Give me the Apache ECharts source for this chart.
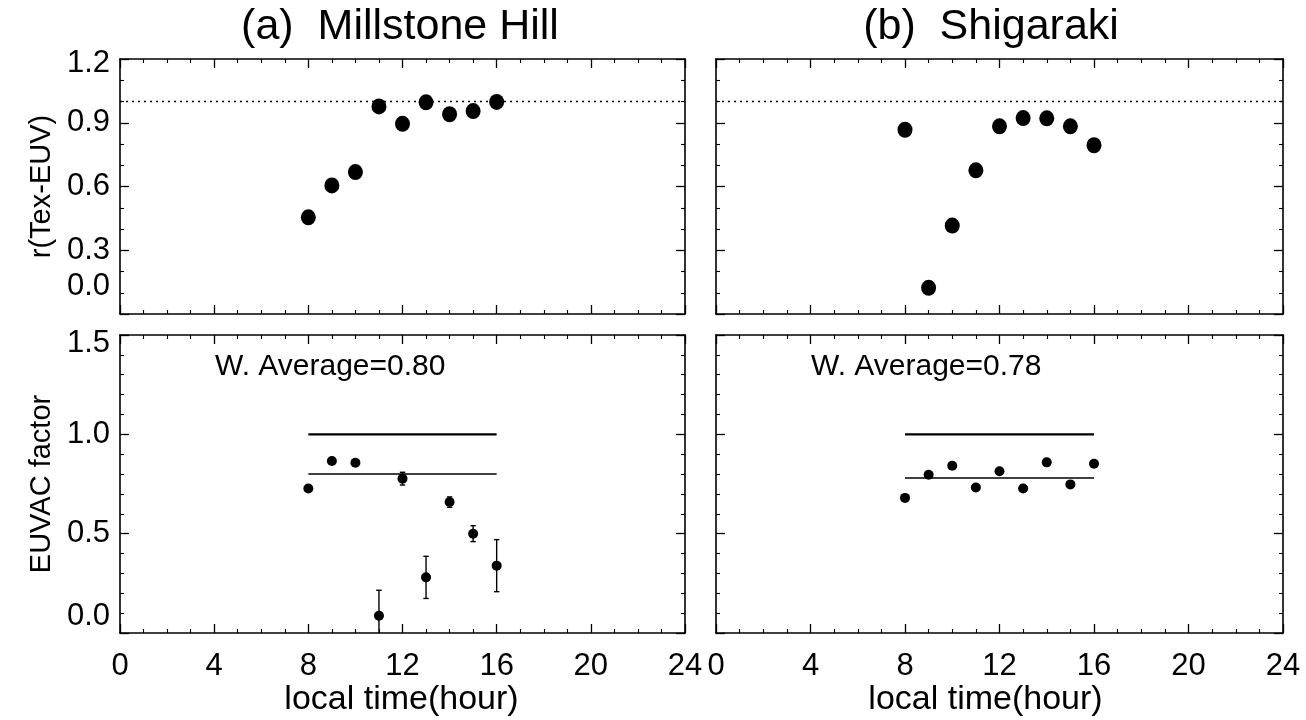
<!DOCTYPE html>
<html>
<head>
<meta charset="utf-8">
<script src="https://cdn.jsdelivr.net/npm/echarts@6/dist/echarts.min.js"></script>
<style>html,body{margin:0;padding:0;background:#fff}#c{width:1306px;height:720px}</style>
</head>
<body>
<div id="c"></div>
<script>
// ---- data ----
const hours = [8, 9, 10, 11, 12, 13, 14, 15, 16];
const mhCorr = [0.455, 0.605, 0.668, 0.977, 0.895, 0.996, 0.940, 0.955, 0.998];
const sgCorr = [0.867, 0.123, 0.416, 0.676, 0.883, 0.922, 0.921, 0.883, 0.794];
const mhFactor = [0.727, 0.866, 0.857, 0.087, 0.777, 0.280, 0.659, 0.500, 0.339];
const mhFactorErr = [0, 0, 0, 0.128, 0.032, 0.106, 0.026, 0.040, 0.131];
const sgFactor = [0.680, 0.797, 0.842, 0.732, 0.814, 0.727, 0.859, 0.748, 0.852];
const mhAvg = 0.80;
const sgAvg = 0.78;
const refLevel = 1.0;
const xTicks = [0, 4, 8, 12, 16, 20, 24];
const corrTicks = [0.0, 0.3, 0.6, 0.9, 1.2];
const factorTicks = [0.0, 0.5, 1.0, 1.5];
const panelTitles = ['(a)  Millstone Hill', '(b)  Shigaraki'];
const avgLabels = ['W. Average=0.80', 'W. Average=0.78'];
const xName = 'local time(hour)';
const yNames = ['r(Tex-EUV)', 'EUVAC factor'];

// ---- layout ----
const FONT = 'Liberation Sans, Arial, Helvetica, sans-serif';
const NARROW = 'Liberation Sans Narrow, Arial Narrow, Liberation Sans, sans-serif';
const grids = [
  {left: 120, top: 59, width: 565, height: 255},
  {left: 716, top: 59, width: 567, height: 255},
  {left: 120, top: 335, width: 565, height: 298},
  {left: 716, top: 335, width: 567, height: 298}
].map(g => Object.assign({outerBoundsMode: 'none', containLabel: false, show: false}, g));

const lineSty = {color: '#000', width: 1.6};
const xStep = xTicks[1] - xTicks[0];
function frameX(gi, pos, withLabels, nameShift) {
  const ax = {
    type: 'value', gridIndex: gi, position: pos,
    min: xTicks[0], max: xTicks[xTicks.length - 1], interval: xStep,
    axisLine: {show: true, onZero: false, lineStyle: lineSty},
    axisTick: {show: true, inside: true, length: 9, lineStyle: {color: '#000', width: 1.3}},
    minorTick: {show: true, splitNumber: 4, length: 4, lineStyle: {color: '#000', width: 1.1}},
    axisLabel: {show: false}, splitLine: {show: false}, minorSplitLine: {show: false}
  };
  if (withLabels) {
    ax.axisLabel = {show: true, margin: 18, fontSize: 31, fontFamily: NARROW, color: '#000',
      showMinLabel: true, showMaxLabel: true, hideOverlap: false};
    ax.name = xName;
    ax.nameLocation = 'middle';
    ax.nameGap = 48;
    ax.nameTextStyle = {fontSize: 34, fontFamily: NARROW, color: '#000',
      padding: [0, nameShift > 0 ? 0 : -2 * nameShift, 0, nameShift > 0 ? 2 * nameShift : 0]};
  }
  return ax;
}
function yFmt(ticks) {
  const lo = ticks[0], hi = ticks[ticks.length - 1];
  return v => {
    const s = v.toFixed(1);
    if (Math.abs(v - lo) < 1e-9) return '{lo|' + s + '}';
    if (Math.abs(v - hi) < 1e-9) return '{hi|' + s + '}';
    return s;
  };
}
function frameY(gi, pos, ticks, minorSplit, withLabels, name, loUp, hiDown) {
  const step = ticks[1] - ticks[0];
  const base = {fontSize: 31, fontFamily: FONT, color: '#000'};
  return {
    type: 'value', gridIndex: gi, position: pos,
    min: ticks[0], max: ticks[ticks.length - 1], interval: step,
    axisLine: {show: true, onZero: false, lineStyle: lineSty},
    axisTick: {show: true, inside: true, length: 9, lineStyle: {color: '#000', width: 1.3}},
    minorTick: {show: true, splitNumber: minorSplit, length: 4, lineStyle: {color: '#000', width: 1.1}},
    axisLabel: withLabels ? Object.assign({
      show: true, margin: 10, showMinLabel: true, showMaxLabel: true,
      formatter: yFmt(ticks),
      rich: {
        lo: Object.assign({padding: [0, 0, 2 * loUp, 0]}, base),
        hi: Object.assign({padding: [2 * hiDown, 0, 0, 0]}, base)
      }
    }, base) : {show: false},
    name: withLabels ? name : '',
    nameLocation: 'middle', nameGap: 64,
    nameTextStyle: {fontSize: 29, fontFamily: FONT, color: '#000'},
    splitLine: {show: false}, minorSplitLine: {show: false}
  };
}

const xAxis = [
  frameX(0, 'bottom', false), frameX(1, 'bottom', false),
  frameX(2, 'bottom', true, -1), frameX(3, 'bottom', true, -14),
  frameX(0, 'top', false), frameX(1, 'top', false), frameX(2, 'top', false), frameX(3, 'top', false)
];
const yAxis = [
  frameY(0, 'left', corrTicks, 3, true, yNames[0], 28, 4),
  frameY(1, 'left', corrTicks, 3, false),
  frameY(2, 'left', factorTicks, 5, true, yNames[1], 17, 8),
  frameY(3, 'left', factorTicks, 5, false),
  frameY(0, 'right', corrTicks, 3, false),
  frameY(1, 'right', corrTicks, 3, false),
  frameY(2, 'right', factorTicks, 5, false),
  frameY(3, 'right', factorTicks, 5, false)
];

const pairs = (ys) => hours.map((h, i) => [h, ys[i]]);
const dot = {color: '#000', opacity: 1};
const series = [];
// dotted reference in correlation panels
[0, 1].forEach(g => series.push({
  type: 'line', xAxisIndex: g, yAxisIndex: g, symbol: 'none', silent: true,
  data: [[xTicks[0], refLevel], [xTicks[xTicks.length - 1], refLevel]],
  lineStyle: {color: '#000', width: 1.4, type: [2, 4]}
}));
series.push({type: 'scatter', xAxisIndex: 0, yAxisIndex: 0, data: pairs(mhCorr),
  symbol: 'circle', symbolSize: [15, 16], itemStyle: dot});
series.push({type: 'scatter', xAxisIndex: 1, yAxisIndex: 1, data: pairs(sgCorr),
  symbol: 'circle', symbolSize: [15, 16], itemStyle: dot});
// reference and average lines in factor panels
[[2, mhAvg], [3, sgAvg]].forEach(([g, avg]) => {
  series.push({type: 'line', xAxisIndex: g, yAxisIndex: g, symbol: 'none', silent: true,
    data: [[hours[0], refLevel], [hours[hours.length - 1], refLevel]],
    lineStyle: {color: '#000', width: 2.4}});
  series.push({type: 'line', xAxisIndex: g, yAxisIndex: g, symbol: 'none', silent: true,
    data: [[hours[0], avg], [hours[hours.length - 1], avg]],
    lineStyle: {color: '#000', width: 1.4}});
});
// error bars (Millstone Hill)
series.push({
  type: 'custom', xAxisIndex: 2, yAxisIndex: 2, clip: true,
  data: hours.map((h, i) => [h, mhFactor[i], mhFactorErr[i]]).filter(d => d[2] > 0),
  renderItem: (params, api) => {
    const x = api.value(0), y = api.value(1), e = api.value(2);
    const t = api.coord([x, y + e]), b = api.coord([x, y - e]);
    const w = 2.7;
    const st = {stroke: '#000', lineWidth: 1.4};
    return {type: 'group', children: [
      {type: 'line', shape: {x1: t[0], y1: t[1], x2: b[0], y2: b[1]}, style: st},
      {type: 'line', shape: {x1: t[0] - w, y1: t[1], x2: t[0] + w, y2: t[1]}, style: st},
      {type: 'line', shape: {x1: b[0] - w, y1: b[1], x2: b[0] + w, y2: b[1]}, style: st}
    ]};
  }
});
series.push({type: 'scatter', xAxisIndex: 2, yAxisIndex: 2, data: pairs(mhFactor),
  symbol: 'circle', symbolSize: [10, 10], itemStyle: dot});
series.push({type: 'scatter', xAxisIndex: 3, yAxisIndex: 3, data: pairs(sgFactor),
  symbol: 'circle', symbolSize: [10, 10], itemStyle: dot});

const graphic = [
  {type: 'text', x: 400, y: 27, style: {text: panelTitles[0], font: '43px ' + FONT, fill: '#000', textAlign: 'center', textVerticalAlign: 'middle'}},
  {type: 'text', x: 991, y: 27, style: {text: panelTitles[1], font: '43px ' + FONT, fill: '#000', textAlign: 'center', textVerticalAlign: 'middle'}},
  {type: 'text', x: 215, y: 367, style: {text: avgLabels[0], font: '30px ' + FONT, fill: '#000', textAlign: 'left', textVerticalAlign: 'middle'}},
  {type: 'text', x: 811, y: 367, style: {text: avgLabels[1], font: '30px ' + FONT, fill: '#000', textAlign: 'left', textVerticalAlign: 'middle'}}
];

const chart = echarts.init(document.getElementById('c'), null, {renderer: 'canvas'});
chart.setOption({
  animation: false,
  backgroundColor: '#fff',
  grid: grids,
  xAxis: xAxis,
  yAxis: yAxis,
  series: series,
  graphic: graphic
});
</script>
</body>
</html>
